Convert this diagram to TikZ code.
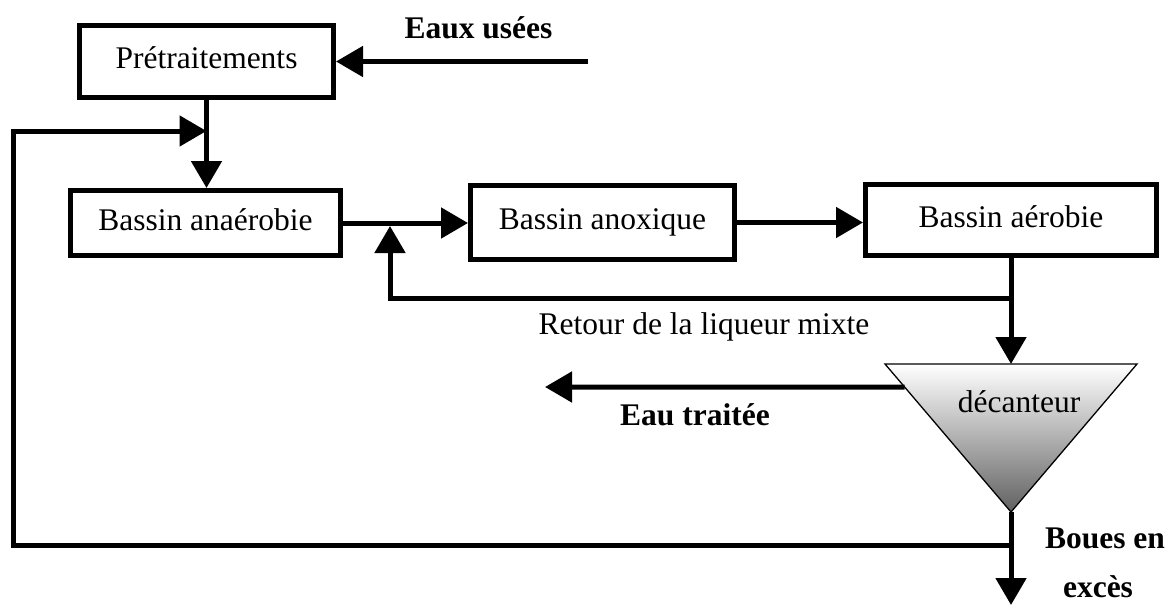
\documentclass[tikz,border=0pt]{standalone}
\usepackage{fontspec}
\setmainfont{Liberation Serif}
\usetikzlibrary{arrows.meta,calc}
\begin{document}
\begin{tikzpicture}[x=1pt,y=-1pt,
  box/.style={draw,line width=5pt,inner sep=0pt,font=\fontsize{31.5}{36}\selectfont,text height=21.4pt,text depth=6.9pt},
  flow/.style={line width=5pt,-{Triangle[length=27pt,width=30pt]}},
  lbl/.style={font=\fontsize{31.5}{36}\selectfont,inner sep=0pt,anchor=base},
  blbl/.style={lbl,font=\fontsize{31.5}{36}\selectfont\bfseries}]
\useasboundingbox (0,0) rectangle (1174,610);
% boxes
\node[box,minimum width=254pt,minimum height=72pt] (pre) at (206.5,61.5) {Prétraitements};
\node[box,minimum width=270pt,minimum height=65pt] (ana) at (205.5,223) {Bassin anaérobie};
\node[box,minimum width=264pt,minimum height=74pt] (ano) at (602.5,222.5) {Bassin anoxique};
\node[box,minimum width=291pt,minimum height=71pt] (aer) at (1011,220) {Bassin aérobie};
% decanter
\coordinate (dtl) at (885,364);
\coordinate (dtr) at (1137,364);
\coordinate (dap) at (1011,512);
\shade[top color=white,bottom color=black!62] (dtl) -- (dtr) -- (dap) -- cycle;
\draw[line width=1.3pt,line join=miter] (dtl) -- (dtr) -- (dap) -- cycle;
\node[lbl] (dec) at (1019,412) {décanteur};
% inflow
\node[blbl] (eu) at (478.5,38) {Eaux usées};
\coordinate (eauin) at (588,61.5);
\draw[flow] (eauin) -- (pre.east);
\draw[flow] (pre.south) -- (pre.south |- ana.north);
% sludge recycle
\coordinate (jtop) at (pre.south |- 0,131);
\coordinate (bj) at (dap |- 0,545);
\coordinate (lc) at (13,545);
\draw[flow] (bj) -- (lc) |- (jtop);
% main line
\draw[flow] (ana.east) -- (ano.west |- ana.east);
\draw[flow] (ano.east) -- (aer.west |- ano.east);
\draw[flow] (aer.south) -- (aer.south |- dtl);
% mixed liquor return
\coordinate (rj) at (aer.south |- 0,298);
\coordinate (rup) at (390,226);
\draw[flow] (rj) -| (rup);
\node[lbl] (ret) at (704,334) {Retour de la liqueur mixte};
% treated water
\coordinate (et1) at ($(dtl)!{23/148}!(dap)$);
\coordinate (et2) at (545,387);
\draw[flow] (et1) -- (et2);
\node[blbl] (et) at (695,425) {Eau traitée};
% excess sludge
\coordinate (bout) at (dap |- 0,605);
\draw[flow] (dap) -- (bout);
\node[blbl] (bo1) at (1105,548) {Boues en};
\node[blbl] (bo2) at (1098,597) {excès};
\end{tikzpicture}
\end{document}
